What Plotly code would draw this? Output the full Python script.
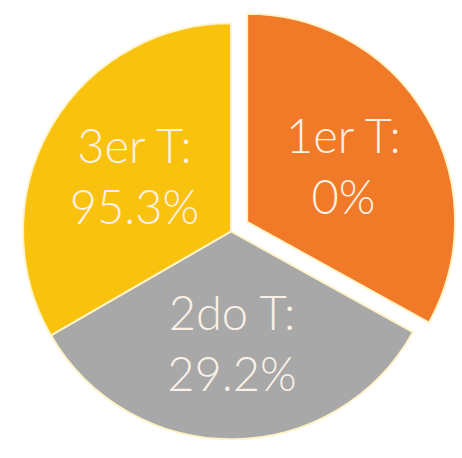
import plotly.graph_objects as go

labels = ["1er T", "2do T", "3er T"]
shares = [119, 121, 120]
text_labels = ["1er T:<br>0%", "2do T:<br>29.2%", "3er T:<br>95.3%"]
colors = ["#F07A28", "#A8A8A8", "#F9C20F"]
pulls = [0.09, 0, 0]

fig = go.Figure(go.Pie(
    labels=labels,
    values=shares,
    text=text_labels,
    texttemplate="%{text}",
    textinfo="text",
    textposition="inside",
    insidetextorientation="horizontal",
    sort=False,
    direction="clockwise",
    rotation=0,
    pull=pulls,
    marker=dict(colors=colors, line=dict(color="#FFF4C8", width=2)),
    textfont=dict(family="Lato", size=47, color="#FBF1E6", weight=300),
    showlegend=False,
    hoverinfo="skip",
    domain=dict(x=[0, 1], y=[0, 0.99]),
))
fig.update_layout(
    width=462, height=458,
    margin=dict(l=0, r=0, t=0, b=0),
    paper_bgcolor="white",
    uniformtext=dict(minsize=47, mode="show"),
)
fig.write_html("out.html")
